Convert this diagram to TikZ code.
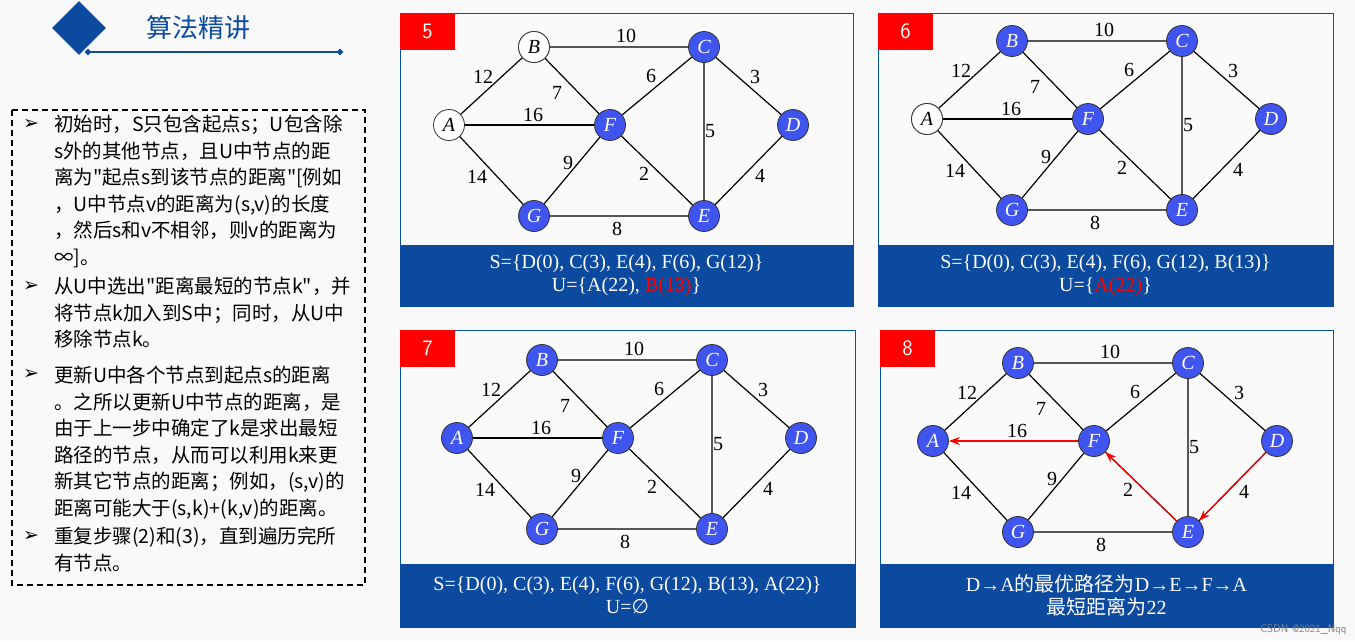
\documentclass[tikz,border=0pt]{standalone}
\usepackage{fontspec}
\setmainfont{Liberation Serif}
\newfontfamily\cjk{Noto Sans CJK SC}
\newfontfamily\djv{DejaVu Sans}
\usetikzlibrary{shapes.geometric,arrows.meta}
\definecolor{nb}{RGB}{64,84,240}
\definecolor{db}{RGB}{12,74,160}
\definecolor{fr}{RGB}{1,84,166}
\tikzset{
 vx/.style={circle,draw=black!80,thick,minimum size=31pt,inner sep=0pt,font=\fontsize{20}{20}\selectfont\itshape},
 bv/.style={vx,fill=nb,text=white},
 wv/.style={vx,fill=white,text=black},
 ed/.style={line width=1.2pt},
 wl/.style={font=\fontsize{20}{20}\selectfont},
 panel/.style={draw=fr,line width=1pt,fill=white!96!gray},
 strip/.style={fill=db,draw=db,text=white,align=center,font=\fontsize{20}{23}\selectfont},
 num/.style={fill=red,text=white,font=\sffamily\fontsize{22}{22}\selectfont,minimum width=55pt,minimum height=37pt,inner sep=0pt},
 rd/.style={ed,draw=red,-{Stealth[length=11pt,width=8pt]}},
 bl/.style={font=\cjk\fontsize{19.5}{26.5}\selectfont,align=left,anchor=north west,inner sep=0pt},
 arr/.style={font=\djv\fontsize{19}{19}\selectfont,anchor=north}
}
\newcommand\gph[4]{%
 \begin{scope}[shift={(#1,#2)}]
 \node[#3] (#4A) at (0,0) {A};
 \node[#3] (#4B) at (85,-78) {B};
 \node[bv] (#4C) at (255,-78) {C};
 \node[bv] (#4D) at (344,0) {D};
 \node[bv] (#4F) at (161,0) {F};
 \node[bv] (#4G) at (85,91) {G};
 \node[bv] (#4E) at (255,91) {E};
 \node[wl] (#4l12) at (34,-48) {12};
 \node[wl] (#4l10) at (177,-89) {10};
 \node[wl] (#4l7) at (108,-32) {7};
 \node[wl] (#4l16) at (84,-10) {16};
 \node[wl] (#4l6) at (202,-49) {6};
 \node[wl] (#4l3) at (306,-48) {3};
 \node[wl] (#4l5) at (261,6) {5};
 \node[wl] (#4l9) at (119,38) {9};
 \node[wl] (#4l2) at (195,49) {2};
 \node[wl] (#4l14) at (28,52) {14};
 \node[wl] (#4l4) at (311,51) {4};
 \node[wl] (#4l8) at (168,104) {8};
 \draw[ed] (#4A)--(#4B) (#4B)--(#4C) (#4B)--(#4F) (#4C)--(#4F) (#4C)--(#4D) (#4C)--(#4E)
   (#4A)--(#4G) (#4G)--(#4F) (#4G)--(#4E) (#4D)--(#4E) (#4F)--(#4E);
 \end{scope}}
\begin{document}
\begin{tikzpicture}[x=1pt,y=-1pt]
\path[fill=white!95!gray] (0,0) rectangle (1355,641);
\useasboundingbox (0,0) rectangle (1355,641);
% header
\node[diamond,fill=db,minimum width=54pt,minimum height=54pt,inner sep=0pt] (hd) at (79,28) {};
\node[text=db,font=\cjk\fontsize{26}{26}\selectfont] (ht) at (198,28) {算法精讲};
\coordinate (h1) at (88,52); \coordinate (h2) at (340,52);
\draw[db,line width=1.5pt] (h1)--(h2);
\node[diamond,fill=db,minimum size=7pt,inner sep=0pt] (hd1) at (h1) {};
\node[diamond,fill=db,minimum size=7pt,inner sep=0pt] (hd2) at (h2) {};
% left box
\draw[line width=1.5pt,dash pattern=on 6pt off 4pt] (12,110) rectangle (365,585);
\foreach \y in {116,278,366,528} \node[arr] at (31,\y) {➢};
\node[bl] (t1) at (54,115) {初始时，S只包含起点s；U包含除\\s外的其他节点，且U中节点的距\\离为"起点s到该节点的距离"[例如\\，U中节点v的距离为(s,v)的长度\\，然后s和v不相邻，则v的距离为\\∞]。};
\node[bl] (t2) at (54,277) {从U中选出"距离最短的节点k"，并\\将节点k加入到S中；同时，从U中\\移除节点k。};
\node[bl] (t3) at (54,366) {更新U中各个节点到起点s的距离\\。之所以更新U中节点的距离，是\\由于上一步中确定了k是求出最短\\路径的节点，从而可以利用k来更\\新其它节点的距离；例如，(s,v)的\\距离可能大于(s,k)+(k,v)的距离。};
\node[bl] (t4) at (54,527) {重复步骤(2)和(3)，直到遍历完所\\有节点。};
% panels
\draw[panel] (400,13) rectangle (853,306);
\draw[panel] (878,13) rectangle (1333,306);
\draw[panel] (400,330) rectangle (855,627);
\draw[panel] (880,330) rectangle (1333,627);
\node[strip,minimum width=453pt,minimum height=61pt] (s5) at (626.5,275.5) {S=\{D(0), C(3), E(4), F(6), G(12)\}\\U=\{A(22), \textcolor{red}{B(13)}\}};
\node[strip,minimum width=455pt,minimum height=61pt] (s6) at (1105.5,275.5) {S=\{D(0), C(3), E(4), F(6), G(12), B(13)\}\\U=\{\textcolor{red}{A(22)}\}};
\node[strip,minimum width=455pt,minimum height=63pt] (s7) at (627.5,595.5) {S=\{D(0), C(3), E(4), F(6), G(12), B(13), A(22)\}\\U={\djv ∅}};
\node[strip,minimum width=453pt,minimum height=63pt] (s8) at (1106.5,595.5) {D→A{\cjk 的最优路径为}D→E→F→A\\{\cjk 最短距离为}22};
\node[num] (n5) at (427.5,31.5) {5};
\node[num] (n6) at (905.5,31.5) {6};
\node[num] (n7) at (427.5,348.5) {7};
\node[num] (n8) at (907.5,348.5) {8};
\gph{449}{125}{wv}{p}
\gph{927}{119}{bv}{q}
\gph{457}{438}{bv}{r}
\gph{933}{441}{bv}{s}
\draw[ed] (pA)--(pF) (qA)--(qF) (rA)--(rF);
\draw[rd] (sF)--(sA);
\draw[rd] (sE)--(sF);
\draw[rd] (sD)--(sE);
\node[wv] (pBw) at (pB) {B};
\node[wv] (qAw) at (qA) {A};
\node[text=gray,font=\sffamily\fontsize{11}{11}\selectfont,anchor=south east] (wm) at (1350,638) {CSDN @2021\_Nqq};
\end{tikzpicture}
\end{document}
